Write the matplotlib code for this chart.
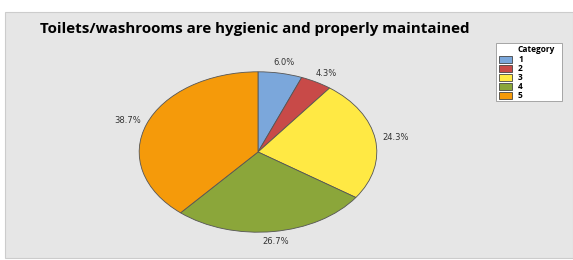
import matplotlib
matplotlib.use("Agg")
import matplotlib.pyplot as plt
from matplotlib.patches import Rectangle
import numpy as np

categories = ["1", "2", "3", "4", "5"]
values = [6.0, 4.3, 24.3, 26.7, 38.7]
colors = ["#7BA7DB", "#C84A48", "#FFE944", "#8BA63A", "#F59A0A"]
title = "Toilets/washrooms are hygienic and properly maintained"

W, H = 573, 260
fig = plt.figure(figsize=(W / 100, H / 100), dpi=100)
fig.patch.set_facecolor("white")


def fx(px):
    return px / W


def fy(py):
    return 1 - py / H


fig.patches.append(Rectangle((fx(5), fy(258)), (W - 5) / W, 246 / H,
                             transform=fig.transFigure, facecolor="#E6E6E6",
                             edgecolor="#CCCCCC", linewidth=0.8, zorder=-5))

ax = fig.add_axes([fx(138), fy(233), 240 / W, 162 / H])
ax.set_zorder(2)
ax.patch.set_alpha(0)
wedges, texts = ax.pie(values, colors=colors, startangle=90, counterclock=False,
                       wedgeprops=dict(edgecolor="#555555", linewidth=0.6))
ax.set_aspect("auto")
ax.set_xlim(-1.01, 1.01)
ax.set_ylim(-1.01, 1.01)
tot = sum(values)
ang = 90.0
for v in values:
    mid = ang - v / tot * 360 / 2
    ang -= v / tot * 360
    rx, ry = 1.17, 1.13
    x = rx * np.cos(np.radians(mid))
    y = ry * np.sin(np.radians(mid))
    ax.text(x, y, f"{v:.1f}%", ha="center", va="center", fontsize=6,
            color="#333333", clip_on=False)

fig.text(fx(40), fy(29), title, fontsize=10.9, fontweight="bold",
         ha="left", va="center", family="Open Sans")

# legend drawn manually
fig.patches.append(Rectangle((fx(496), fy(101)), 66 / W, 58 / H,
                             transform=fig.transFigure, facecolor="white",
                             edgecolor="#999999", linewidth=0.6, zorder=3))
fig.text(fx(517), fy(50), "Category", fontsize=6, fontweight="bold",
         family="Open Sans", ha="left", va="center", zorder=4)
for i, (c, lab) in enumerate(zip(colors, categories)):
    yc = 59 + i * 9.1
    fig.patches.append(Rectangle((fx(499), fy(yc + 3.5)), 13 / W, 7 / H,
                                 transform=fig.transFigure, facecolor=c,
                                 edgecolor="#444444", linewidth=0.6, zorder=4))
    fig.text(fx(518), fy(yc), lab, fontsize=6, fontweight="bold",
             family="Open Sans", ha="left", va="center", zorder=4)

fig.savefig("out.png", dpi=100)
